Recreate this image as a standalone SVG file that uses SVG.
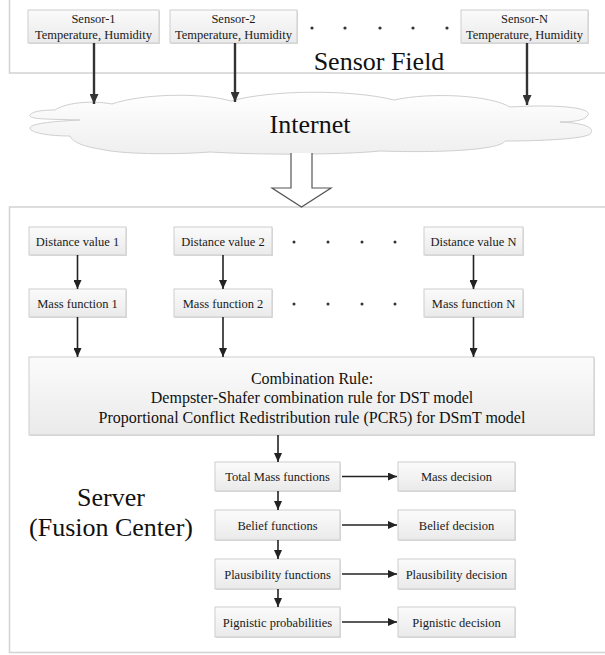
<svg xmlns="http://www.w3.org/2000/svg" width="605" height="655" viewBox="0 0 605 655">
<defs>
<linearGradient id="bg" x1="0" y1="0" x2="0" y2="1">
<stop offset="0" stop-color="#fbfbfb"/>
<stop offset="1" stop-color="#eaeaea"/>
</linearGradient>
<linearGradient id="cg" x1="0" y1="0" x2="0" y2="1">
<stop offset="0" stop-color="#ffffff"/>
<stop offset="1" stop-color="#efefef"/>
</linearGradient>
<marker id="ah" markerUnits="userSpaceOnUse" markerWidth="10" markerHeight="8" refX="9" refY="4" orient="auto">
<path d="M0,0 L9,4 L0,8 Z" fill="#222"/>
</marker>
<marker id="ahb" markerUnits="userSpaceOnUse" markerWidth="11" markerHeight="9" refX="10" refY="4.5" orient="auto">
<path d="M0,0 L10,4.5 L0,9 Z" fill="#333"/>
</marker>
</defs>
<style>
.frame{fill:none;stroke:#d2d2d2;stroke-width:1.5}
.box{fill:url(#bg);stroke:#cdcdcd;stroke-width:1}
.sh{fill:#dcdcdc}
.t{font-family:"Liberation Serif","Times New Roman",serif;font-size:12.5px;fill:#1a1a1a;text-anchor:middle}
.big{font-family:"Liberation Serif","Times New Roman",serif;font-size:26px;fill:#111;text-anchor:middle}
.mid{font-family:"Liberation Serif","Times New Roman",serif;font-size:16px;fill:#111;text-anchor:middle}
.ln{stroke:#222;stroke-width:1.6;fill:none;marker-end:url(#ah)}
.lnb{stroke:#333;stroke-width:2.4;fill:none;marker-end:url(#ahb)}
.dot{fill:#333}
</style>

<!-- frames -->
<rect class="frame" x="9.5" y="-3" width="610" height="76"/>
<rect class="frame" x="9.5" y="207" width="610" height="445.5"/>

<!-- sensors -->
<g id="sensor1">
<rect class="sh" x="29" y="11" width="131" height="33"/>
<rect class="box" x="28" y="10" width="131" height="33"/>
<text class="t" x="93.5" y="22.5">Sensor-1</text>
<text class="t" x="93.5" y="38.5">Temperature, Humidity</text>
</g>
<g id="sensor2">
<rect class="sh" x="171" y="11" width="127" height="33"/>
<rect class="box" x="170" y="10" width="127" height="33"/>
<text class="t" x="233.5" y="22.5">Sensor-2</text>
<text class="t" x="233.5" y="38.5">Temperature, Humidity</text>
</g>
<g id="sensorN">
<rect class="sh" x="462" y="11" width="127" height="33"/>
<rect class="box" x="461" y="10" width="127" height="33"/>
<text class="t" x="524.5" y="22.5">Sensor-N</text>
<text class="t" x="524.5" y="38.5">Temperature, Humidity</text>
</g>
<g id="sensor-dots">
<circle class="dot" cx="312" cy="28" r="1.6"/>
<circle class="dot" cx="345" cy="28" r="1.6"/>
<circle class="dot" cx="380" cy="28" r="1.6"/>
<circle class="dot" cx="413" cy="28" r="1.6"/>
<circle class="dot" cx="447" cy="28" r="1.6"/>
</g>
<text class="big" x="379" y="70">Sensor Field</text>

<!-- cloud -->
<g id="internet">
<path d="M112,104 C140,94 200,92 231,101 C270,90 350,89 394,100 C430,92 490,95 510,107 C560,104 592,108 588,115 C585,121 570,122 560,122 C585,123 596,128 590,134 C584,139 540,141 505,141 C500,150 440,153 380,151 C340,155 260,155 210,152 C170,155 120,154 100,149 C85,147 72,142 70,136 C50,136 30,133 30,128 C30,123 60,121 80,120 C55,119 28,120 30,115 C32,111 45,110 55,110 C65,103 90,100 112,104 Z" fill="url(#cg)" stroke="#cfcfcf" stroke-width="1"/>
<text class="big" x="310" y="133">Internet</text>
</g>

<!-- block arrow -->
<g id="block-arrow">
<path d="M291,153 L291,188 L272,188 L301.5,207 L331,188 L312,188 L312,153" fill="#fff" stroke="#555" stroke-width="1.2"/>
</g>

<!-- server nodes -->
<g id="dist1"><rect class="sh" x="30" y="228" width="97" height="28"/><rect class="box" x="29" y="227" width="97" height="28"/><text class="t" x="77.5" y="245.5">Distance value 1</text></g>
<g id="dist2"><rect class="sh" x="175" y="228" width="98" height="28"/><rect class="box" x="174" y="227" width="98" height="28"/><text class="t" x="223" y="245.5">Distance value 2</text></g>
<g id="distN"><rect class="sh" x="425" y="228" width="99" height="28"/><rect class="box" x="424" y="227" width="99" height="28"/><text class="t" x="473.5" y="245.5">Distance value N</text></g>
<g id="dist-dots">
<circle class="dot" cx="294" cy="242" r="1.5"/>
<circle class="dot" cx="328" cy="242" r="1.5"/>
<circle class="dot" cx="362" cy="242" r="1.5"/>
<circle class="dot" cx="395" cy="242" r="1.5"/>
</g>
<g id="mass1"><rect class="sh" x="30" y="290" width="97" height="28"/><rect class="box" x="29" y="289" width="97" height="28"/><text class="t" x="77.5" y="307.5">Mass function 1</text></g>
<g id="mass2"><rect class="sh" x="175" y="290" width="98" height="28"/><rect class="box" x="174" y="289" width="98" height="28"/><text class="t" x="223" y="307.5">Mass function 2</text></g>
<g id="massN"><rect class="sh" x="425" y="290" width="99" height="28"/><rect class="box" x="424" y="289" width="99" height="28"/><text class="t" x="473.5" y="307.5">Mass function N</text></g>
<g id="mass-dots">
<circle class="dot" cx="294" cy="304" r="1.5"/>
<circle class="dot" cx="328" cy="304" r="1.5"/>
<circle class="dot" cx="362" cy="304" r="1.5"/>
<circle class="dot" cx="395" cy="304" r="1.5"/>
</g>

<g id="combination">
<rect class="sh" x="30" y="358" width="565" height="78"/>
<rect class="box" x="29" y="357" width="565" height="78"/>
<text class="mid" x="312" y="384">Combination Rule:</text>
<text class="mid" x="312" y="403">Dempster-Shafer combination rule for DST model</text>
<text class="mid" x="312" y="423">Proportional Conflict Redistribution rule (PCR5) for DSmT model</text>
</g>

<g id="totalmass"><rect class="sh" x="216" y="463" width="125" height="29"/><rect class="box" x="215" y="462" width="125" height="29"/><text class="t" x="277.5" y="481">Total Mass functions</text></g>
<g id="belief"><rect class="sh" x="216" y="511" width="125" height="30"/><rect class="box" x="215" y="510" width="125" height="30"/><text class="t" x="277.5" y="529.5">Belief functions</text></g>
<g id="plaus"><rect class="sh" x="216" y="560" width="125" height="30"/><rect class="box" x="215" y="559" width="125" height="30"/><text class="t" x="277.5" y="578.5">Plausibility functions</text></g>
<g id="pign"><rect class="sh" x="216" y="608" width="125" height="30"/><rect class="box" x="215" y="607" width="125" height="30"/><text class="t" x="277.5" y="626.5">Pignistic probabilities</text></g>

<g id="massdec"><rect class="sh" x="399" y="463" width="117" height="29"/><rect class="box" x="398" y="462" width="117" height="29"/><text class="t" x="456.5" y="481">Mass decision</text></g>
<g id="beliefdec"><rect class="sh" x="399" y="511" width="117" height="30"/><rect class="box" x="398" y="510" width="117" height="30"/><text class="t" x="456.5" y="529.5">Belief decision</text></g>
<g id="plausdec"><rect class="sh" x="399" y="560" width="117" height="30"/><rect class="box" x="398" y="559" width="117" height="30"/><text class="t" x="456.5" y="578.5">Plausibility decision</text></g>
<g id="pigndec"><rect class="sh" x="399" y="608" width="117" height="30"/><rect class="box" x="398" y="607" width="117" height="30"/><text class="t" x="456.5" y="626.5">Pignistic decision</text></g>

<g id="server-label">
<text class="big" x="111" y="506">Server</text>
<text class="big" x="111" y="536">(Fusion Center)</text>
</g>

<!-- connectors -->
<g id="connectors">
<line class="lnb" x1="94" y1="43" x2="94" y2="104"/>
<line class="lnb" x1="235" y1="43" x2="235" y2="102"/>
<line class="lnb" x1="527" y1="43" x2="527" y2="105"/>
<line class="ln" x1="77.5" y1="255" x2="77.5" y2="289"/>
<line class="ln" x1="223" y1="255" x2="223" y2="289"/>
<line class="ln" x1="473.5" y1="255" x2="473.5" y2="289"/>
<line class="ln" x1="77.5" y1="317" x2="77.5" y2="357"/>
<line class="ln" x1="223" y1="317" x2="223" y2="357"/>
<line class="ln" x1="473.5" y1="317" x2="473.5" y2="357"/>
<line class="ln" x1="278" y1="435" x2="278" y2="462"/>
<line class="ln" x1="278" y1="491" x2="278" y2="510"/>
<line class="ln" x1="278" y1="540" x2="278" y2="559"/>
<line class="ln" x1="278" y1="589" x2="278" y2="607"/>
<line class="ln" x1="342" y1="476.5" x2="397" y2="476.5"/>
<line class="ln" x1="342" y1="525" x2="397" y2="525"/>
<line class="ln" x1="342" y1="574" x2="397" y2="574"/>
<line class="ln" x1="342" y1="622" x2="397" y2="622"/>
</g>
</svg>
